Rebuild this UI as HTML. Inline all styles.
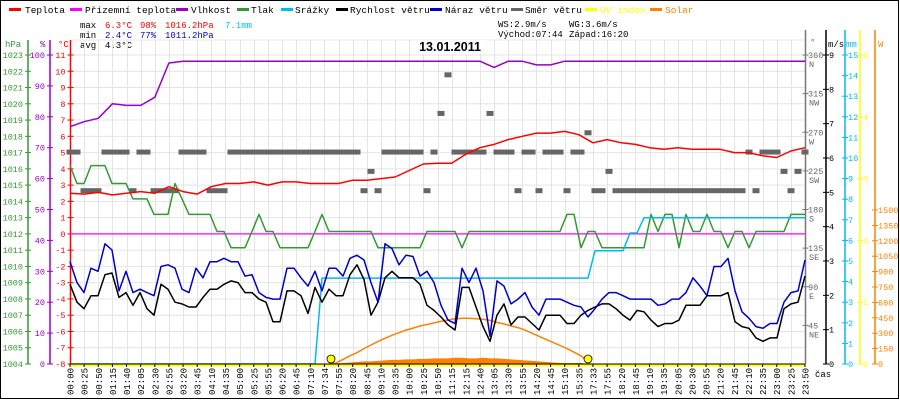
<!DOCTYPE html>
<html><head><meta charset="utf-8"><style>
html,body{margin:0;padding:0;background:#fff}
svg{display:block;font-family:"Liberation Mono","DejaVu Sans Mono",monospace}
</style></head><body>
<svg id="chart" width="900" height="400" viewBox="0 0 900 400" xmlns="http://www.w3.org/2000/svg">
<rect x="0.5" y="0.5" width="898" height="398" fill="#fff" stroke="#000"/>
<g font-size="9.5">
 <g><rect x="9" y="8" width="12" height="3" fill="#ff0000"/><text x="25" y="13">Teplota</text></g>
 <g><rect x="70" y="8" width="12" height="3" fill="#ff00ff"/><text x="85" y="13">Přízemní teplota</text></g>
 <g><rect x="176" y="8" width="12" height="3" fill="#9900cc"/><text x="191" y="13">Vlhkost</text></g>
 <g><rect x="237" y="8" width="12" height="3" fill="#339933"/><text x="251" y="13">Tlak</text></g>
 <g><rect x="281" y="8" width="12" height="3" fill="#00bbee"/><text x="295" y="13">Srážky</text></g>
 <g><rect x="336" y="8" width="12" height="3" fill="#000"/><text x="350" y="13">Rychlost větru</text></g>
 <g><rect x="430" y="8" width="12" height="3" fill="#0000cc"/><text x="445" y="13">Náraz větru</text></g>
 <g><rect x="511" y="8" width="12" height="3" fill="#666"/><text x="525" y="13">Směr větru</text></g>
 <g><rect x="585" y="8" width="12" height="3" fill="#ffff00"/><text x="600" y="13" fill="#ffff00">UV index</text></g>
 <g><rect x="650" y="8" width="12" height="3" fill="#ff8000"/><text x="665" y="13" fill="#ff8000">Solar</text></g>
</g>
<g font-size="9">
 <text x="80" y="28">max</text><text x="105" y="28" fill="#ff0000">6.3°C</text><text x="140" y="28" fill="#ff0000">98%</text><text x="165" y="28" fill="#ff0000">1016.2hPa</text><text x="225" y="28" fill="#00bbee">7.1mm</text>
 <text x="80" y="38">min</text><text x="105" y="38" fill="#0000cc">2.4°C</text><text x="140" y="38" fill="#0000cc">77%</text><text x="165" y="38" fill="#0000cc">1011.2hPa</text>
 <text x="80" y="48">avg</text><text x="105" y="48">4.3°C</text>
 <text x="498" y="27">WS:2.9m/s</text><text x="569" y="27">WG:3.6m/s</text>
 <text x="498" y="37">Východ:07:44</text><text x="569" y="37">Západ:16:20</text>
</g>
<g font-size="9">
 <text x="5" y="47" fill="#339933">hPa</text><text x="40" y="47" fill="#9900cc">%</text><text x="58" y="47" fill="#ff0000">°C</text>
 <text x="810" y="45" fill="#666">°</text><text x="828" y="47">m/s</text><text x="846" y="47" fill="#00bbee">mm</text><text x="878" y="47" fill="#ff8000">W</text>
 <text x="815" y="377">čas</text>
</g>
<g id="grid"></g><g id="axes"></g><g id="series"></g><g id="xlabels"></g>
<rect x="414" y="40" width="72" height="14" fill="#fff"/>
<text x="450" y="51" font-size="12.5" font-weight="bold" text-anchor="middle" font-family="Liberation Sans, sans-serif">13.01.2011</text>
</svg>
<script>
const timeLabels=["00:00","00:25","00:50","01:15","01:40","02:05","02:30","02:55","03:20","03:45","04:10","04:35","05:00","05:25","05:55","06:20","06:45","07:10","07:34","07:55","08:20","08:45","09:10","09:35","10:00","10:25","10:50","11:15","12:15","12:40","13:05","13:30","13:55","14:20","14:45","15:10","15:35","17:33","17:55","18:20","18:45","19:10","19:35","20:05","20:30","20:55","21:20","21:45","22:10","22:35","23:00","23:25","23:50"];
const temperature=[2.5,2.45,2.55,2.4,2.5,2.6,2.5,2.9,2.6,2.45,2.9,3.1,3.1,3.2,3.0,3.2,3.2,3.1,3.1,3.1,3.3,3.3,3.4,3.5,3.9,4.3,4.35,4.35,4.9,5.3,5.5,5.8,6.0,6.2,6.2,6.3,6.1,5.6,5.8,5.6,5.5,5.3,5.2,5.3,5.2,5.2,5.2,5.0,5.0,4.8,4.7,5.1,5.3];
const apparentTemp=[0,0,0,0,0,0,0,0,0,0,0,0,0,0,0,0,0,0,0,0,0,0,0,0,0,0,0,0,0,0,0,0,0,0,0,0,0,0,0,0,0,0,0,0,0,0,0,0,0,0,0,0,0];
const humidity=[76.8,78.4,79.5,84.2,83.7,83.7,86.3,97.4,98,98,98,98,98,98,98,98,98,98,98,98,98,98,98,98,98,98,98,98,98,98,96,98,98,96.8,96.8,98,98,98,98,98,98,98,98,98,98,98,98,98,98,98,98,98,98];
const pressure=[1016.2,1015.1,1015.1,1016.2,1016.2,1016.2,1015.1,1015.1,1015.1,1014.15,1014.15,1014.15,1013.2,1013.2,1013.2,1015.1,1014.15,1013.2,1013.2,1013.2,1013.2,1012.15,1012.15,1011.15,1011.15,1011.15,1012.15,1013.2,1012.15,1012.15,1011.15,1011.15,1011.15,1011.15,1011.15,1012.15,1013.2,1012.15,1012.15,1012.15,1012.15,1012.15,1012.15,1012.15,1011.15,1011.15,1011.15,1011.15,1011.15,1011.15,1011.15,1012.15,1012.15,1012.15,1012.15,1012.15,1011.15,1012.15,1012.15,1012.15,1012.15,1012.15,1012.15,1012.15,1012.15,1012.15,1012.15,1012.15,1012.15,1012.15,1012.15,1013.2,1013.2,1011.15,1012.15,1012.15,1011.15,1011.15,1011.15,1011.15,1011.15,1011.15,1011.15,1013.2,1012.15,1013.2,1013.2,1011.15,1013.2,1012.15,1012.15,1013.2,1012.15,1012.15,1011.15,1012.15,1012.15,1011.15,1012.15,1012.15,1012.15,1012.15,1012.15,1013.2,1013.2,1013.2];
const windGust=[2.98,2.37,2.08,2.79,2.7,3.5,3.32,2.13,2.7,2.08,2.18,2.08,1.99,2.84,2.89,2.79,2.18,2.08,2.79,2.51,2.98,2.98,3.08,2.98,2.98,2.56,2.6,2.08,1.94,1.89,1.89,2.79,2.79,2.51,2.27,2.7,2.13,2.79,2.79,2.56,3.08,3.17,3.03,2.37,1.8,3.5,3.36,2.89,3.17,3.13,2.56,2.7,2.37,1.71,1.28,1.18,2.79,2.37,2.79,2.13,0.81,2.42,2.27,1.75,1.89,2.08,1.66,1.42,1.89,1.89,1.89,1.8,1.71,1.66,1.37,1.61,1.89,2.08,2.08,1.99,1.89,1.89,1.89,1.89,1.71,1.75,1.89,1.89,2.08,2.51,2.27,1.99,2.84,2.84,3.08,2.13,1.52,1.33,1.09,1.04,1.18,1.18,1.8,2.08,2.13,3.03];
const windSpeed=[2.32,1.8,1.61,1.99,1.99,2.6,2.65,1.94,2.08,1.71,2.08,1.61,1.42,2.32,2.18,1.8,1.75,1.66,1.66,1.94,2.18,2.18,2.32,2.42,2.37,2.08,2.08,1.89,1.8,1.23,1.23,2.13,2.13,1.99,1.47,2.23,1.8,2.18,1.99,1.99,2.6,2.89,2.46,1.42,1.8,2.51,2.7,2.51,2.51,2.51,2.32,1.71,1.56,1.37,1.14,0.99,2.23,2.23,1.66,1.09,0.66,1.42,1.75,1.14,1.37,1.37,1.18,0.99,1.42,1.42,1.42,1.18,1.18,1.42,1.56,1.66,1.75,1.75,1.61,1.42,1.28,1.56,1.52,1.28,1.09,1.18,1.18,1.28,1.71,1.71,1.71,1.99,1.99,1.99,2.08,1.23,1.09,1.04,0.76,0.66,0.76,0.76,1.61,1.75,1.8,2.56];
const rain=[0,0,0,0,0,0,0,0,0,0,0,0,0,0,0,0,0,0,0,0,0,0,0,0,0,0,0,0,0,0,0,0,0,0,0,0,4.17,4.17,4.17,4.17,4.17,4.17,4.17,4.17,4.17,4.17,4.17,4.17,4.17,4.17,4.17,4.17,4.17,4.17,4.17,4.17,4.17,4.17,4.17,4.17,4.17,4.17,4.17,4.17,4.17,4.17,4.17,4.17,4.17,4.17,4.17,4.17,4.17,4.17,4.17,5.5,5.5,5.5,5.5,5.5,6.36,6.36,7.1,7.1,7.1,7.1,7.1,7.1,7.1,7.1,7.1,7.1,7.1,7.1,7.1,7.1,7.1,7.1,7.1,7.1,7.1,7.1,7.1,7.1,7.1,7.1];
const solarMax=[null,null,null,null,null,null,null,null,null,null,null,null,null,null,null,null,null,null,null,null,null,null,null,null,null,null,null,null,null,null,null,null,null,null,null,null,null,0,10,45,80,110,150,185,220,250,280,305,330,350,370,385,400,415,430,440,445,445,440,435,425,405,390,370,355,330,300,270,240,210,180,150,115,80,20,null,null,null,null,null,null,null,null,null,null,null,null,null,null,null,null,null,null,null,null,null,null,null,null,null,null,null];
const solar=[0,0,0,0,0,0,0,0,0,0,0,0,0,0,0,0,0,0,0,0,0,0,0,0,0,0,0,0,0,0,0,0,0,0,0,0,0,0,5,10,15,20,25,25,30,35,40,40,45,45,50,50,55,55,55,60,60,55,55,60,55,55,50,45,40,35,30,25,20,15,10,10,10,10,0,0,0,0,0,0,0,0,0,0,0,0,0,0,0,0,0,0,0,0,0,0,0,0,0,0,0,0,0,0,0,0];
const uvIndex=[0,0,0,0,0,0,0,0,0,0,0,0,0,0,0,0,0,0,0,0,0,0,0,0,0,0,0,0,0,0,0,0,0,0,0,0,0,0,0,0,0,0,0,0,0,0,0,0,0,0,0,0,0];
const windDir=[247.5,247.5,202.5,202.5,202.5,247.5,247.5,247.5,247.5,202.5,247.5,247.5,202.5,202.5,202.5,202.5,247.5,247.5,247.5,247.5,202.5,202.5,202.5,247.5,247.5,247.5,247.5,247.5,247.5,247.5,247.5,247.5,247.5,247.5,247.5,247.5,247.5,247.5,247.5,247.5,247.5,247.5,202.5,225,202.5,247.5,247.5,247.5,247.5,247.5,247.5,202.5,247.5,292.5,337.5,247.5,247.5,247.5,247.5,247.5,292.5,247.5,247.5,247.5,202.5,247.5,247.5,202.5,247.5,247.5,247.5,202.5,247.5,247.5,270,202.5,202.5,225,202.5,202.5,202.5,202.5,202.5,202.5,202.5,202.5,202.5,202.5,202.5,202.5,202.5,202.5,202.5,202.5,202.5,202.5,202.5,247.5,202.5,247.5,247.5,247.5,225,202.5,225,247.5];
const sunMarks=[331,588];
const hpaTicks=[1004,1005,1006,1007,1008,1009,1010,1011,1012,1013,1014,1015,1016,1017,1018,1019,1020,1021,1022,1023];
const pctTicks=[0,10,20,30,40,50,60,70,80,90,100];
const degTicks=[45,90,135,180,225,270,315,360];
const degNames=["NE","E","SE","S","SW","W","NW","N"];
const msTicks=[0,1,2,3,4,5,6,7,8,9];
const mmTicks=[0,1,2,3,4,5,6,7,8,9,10,11,12,13,14,15];
const uvTicks=[0,1,2,3,4,5];
const wTicks=[0,150,300,450,600,750,900,1050,1200,1350,1500];

const NS="http://www.w3.org/2000/svg";
const X0=70,X1=805,YB=364,YT=55;
const H=YB-YT;
const yC=v=>YB-(v+8)*H/19;
const yP=p=>yC(p-1012);
const yH=h=>YB-h*H/100;
const yW=m=>YB-m*H/9;
const yR=m=>YB-m*H/15;
const yU=u=>YB-u*H/5;
const yS=w=>YB-w*154/1500;
const yD=d=>YB-d*H/360;
const xS=i=>X0+i*(X1-X0)/52;
const xJ=j=>X0+j*(X1-X0)/105;
function mk(tag,attrs,parent){const e=document.createElementNS(NS,tag);for(const k in attrs)e.setAttribute(k,attrs[k]);parent.appendChild(e);return e;}
const grid=document.getElementById('grid'),axes=document.getElementById('axes'),ser=document.getElementById('series'),xl=document.getElementById('xlabels');

for(let v=-8;v<=11;v++){const l=mk('line',{x1:X0,x2:X1,y1:yC(v),y2:yC(v),stroke:'#e4e4e4'},grid);

}
{const l=mk('line',{x1:X0,x2:X1,y1:40,y2:40,stroke:'#e4e4e4'},grid);

}
for(let i=0;i<timeLabels.length;i++){const x=Math.round(xS(i))+0.5;const l=mk('line',{x1:x,x2:x,y1:40,y2:YB,stroke:'#e4e4e4'},grid);

}

function axis(x,color,ticks,yf,fmt,side,name,y1){
 const g=mk('g',{},axes);
 
 
 mk('line',{x1:x,x2:x,y1:y1||40,y2:YB,stroke:color,'stroke-width':1.5},g);
 ticks.forEach(t=>{const y=yf(t);mk('line',{x1:x-3,x2:x+3,y1:y,y2:y,stroke:color},g);
  const tx=mk('text',{x:side<0?x-5:x+3,y:y+3,fill:color,'font-size':8.5,'text-anchor':side<0?'end':'start'},g);tx.textContent=fmt(t);});
}
axis(28,'#339933',hpaTicks,yP,t=>t,-1,'hpa-axis');
axis(50,'#9900cc',pctTicks,yH,t=>t,-1,'humidity-axis');
axis(70.5,'#ff0000',[-8,-7,-6,-5,-4,-3,-2,-1,0,1,2,3,4,5,6,7,8,9,10,11],yC,t=>t,-1,'temperature-axis');
axis(805.5,'#777',degTicks,yD,t=>'',1,'direction-axis',30);
degTicks.forEach((d,i)=>{const y=yD(d);const t=mk('text',{x:808,y:y+3,fill:'#666','font-size':8.5},axes);t.textContent=d;


const n=mk('text',{x:809,y:y+12,fill:'#666','font-size':8.5},axes);n.textContent=degNames[i];

});
axis(826,'#000',msTicks,yW,t=>t,1,'wind-speed-axis',30);
axis(845,'#00bbee',mmTicks,yR,t=>t,1,'rain-axis',30);
axis(860,'#ffff00',uvTicks,yU,t=>t,1,'uv-axis',30);
axis(875,'#ff8000',wTicks,yS,t=>t,1,'solar-axis',30);

timeLabels.forEach((s,i)=>{const x=xS(i);const tk=mk('line',{x1:x,x2:x,y1:YB,y2:YB+3,stroke:'#000'},xl);


const t=mk('text',{x:0,y:0,'font-size':9,transform:`translate(${x+3.5},395) rotate(-90)`},xl);t.textContent=s;

});

function line(vals,xf,yf,color,w,name){const pts=[];vals.forEach((v,i)=>{if(v!==null)pts.push(xf(i).toFixed(1)+','+yf(v).toFixed(1));});
const p=mk('polyline',{points:pts.join(' '),fill:'none',stroke:color,'stroke-width':w,'stroke-linejoin':'round'},ser);

return p;}

{const pts=[xJ(0)+','+YB];solar.forEach((v,j)=>{pts.push(xJ(j).toFixed(1)+','+yS(v).toFixed(1));});pts.push(xJ(105)+','+YB);
const a=mk('polygon',{points:pts.join(' '),fill:'#ff8000'},ser);

}
line(solarMax,xJ,yS,'#ff8000',1.5,'solar-max-line');
windDir.forEach((d,j)=>{if(d===null)return;const r=mk('rect',{x:xJ(j)-3.5,y:yD(d)-2,width:7,height:5,fill:'#666'},ser);

});
line(apparentTemp,xS,yC,'#ff00ff',1.2,'apparent-temperature-line');
line(pressure,xJ,yP,'#339933',1.5,'pressure-line');
line(rain,xJ,yR,'#00bbee',1.5,'rain-line');
line(windSpeed,xJ,yW,'#000',1.5,'wind-speed-line');
line(windGust,xJ,yW,'#0000cc',1.5,'wind-gust-line');
line(humidity,xS,yH,'#9900cc',1.5,'humidity-line');
line(temperature,xS,yC,'#ff0000',1.5,'temperature-line');
{const b=mk('line',{x1:X0,x2:X1,y1:YB,y2:YB,stroke:'#000'},ser);

}
line(uvIndex,xS,v=>yU(v)+1.5,'#ffff00',2,'uv-index-line');
sunMarks.forEach(x=>{const c=mk('circle',{cx:x,cy:359,r:4,fill:'#ffff00',stroke:'#000','stroke-width':0.8},ser);

});
</script>
</body></html>
